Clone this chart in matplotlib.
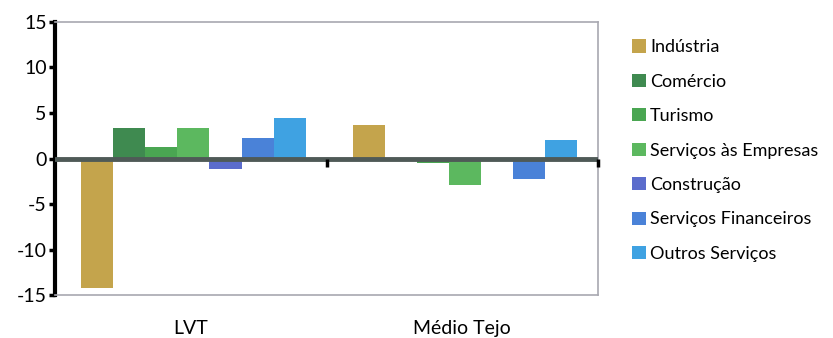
import matplotlib
matplotlib.use("Agg")
import matplotlib.pyplot as plt
import numpy as np
from matplotlib.patches import Patch

regions = ["LVT", "Médio Tejo"]
sectors = ["Indústria", "Comércio", "Turismo", "Serviços às Empresas",
           "Construção", "Serviços Financeiros", "Outros Serviços"]
lvt = [-14.2, 3.3, 1.3, 3.4, -1.1, 2.3, 4.5]
medio_tejo = [3.7, 0.0, -0.5, -2.9, 0.0, -2.3, 2.0]
colors = ["#c4a44c", "#3f8a50", "#4aa652", "#5cb85f", "#5b6ccc", "#4a82d8", "#3fa2e2"]
yticks = [-15, -10, -5, 0, 5, 10, 15]
ytick_labels = ["-15", "-10", "-5", "0", "5", "10", "15"]

plt.rcParams['font.family'] = ['Lato', 'DejaVu Sans']

fig = plt.figure(figsize=(8.33, 3.38), dpi=100)
ax = fig.add_axes([0.066, 0.127, 0.652, 0.808])

values = np.array([lvt, medio_tejo])
x = np.arange(len(regions))
w = 0.118
for i, s in enumerate(sectors):
    ax.bar(x + (i - 3) * w + 0.01, values[:, i], width=w, color=colors[i],
           edgecolor='none', zorder=2)

ax.set_xlim(-0.5, 1.5)
ax.set_ylim(-15, 15)
ax.axhline(0, color="#4f5a57", lw=3.5, zorder=3)
ax.vlines([0.5, 1.5], -0.9, 0, color="black", lw=2.5, zorder=4, clip_on=False)

ax.set_yticks(yticks)
ax.set_yticklabels(ytick_labels, fontsize=14)
ax.tick_params(axis='y', length=4, width=2.5, color='black', pad=2)
ax.set_xticks(x)
ax.set_xticklabels(regions, fontsize=14)
ax.tick_params(axis='x', length=0, pad=18)

ax.spines['left'].set_color('black')
ax.spines['left'].set_linewidth(3)
for sp in ['top', 'right', 'bottom']:
    ax.spines[sp].set_color('#a8a8b0')
    ax.spines[sp].set_linewidth(1.2)

handles = [Patch(facecolor=c, edgecolor='none') for c in colors]
fig.legend(handles, sectors, loc='upper left', bbox_to_anchor=(0.75, 0.905),
           frameon=False, fontsize=13, handlelength=0.75, handleheight=0.75,
           handletextpad=0.25, labelspacing=1.02, borderaxespad=0)

fig.savefig("out.png", dpi=100)
